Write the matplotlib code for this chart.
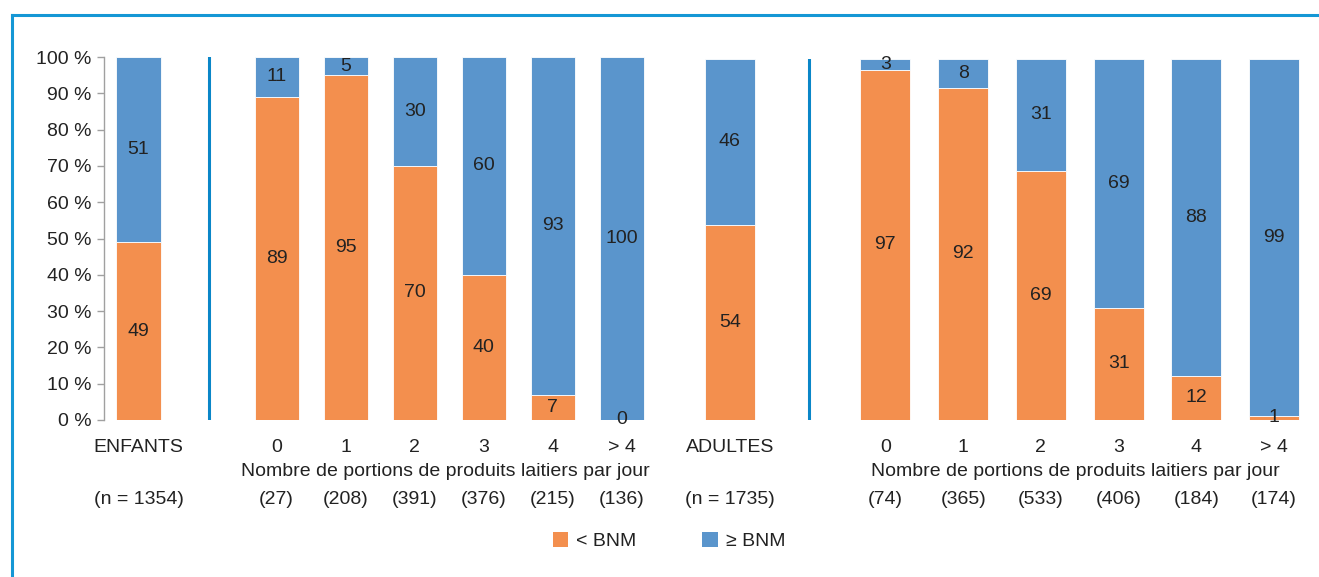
import matplotlib

matplotlib.use("Agg", force=True)
import matplotlib.pyplot as plt
import matplotlib.transforms as mtransforms
from matplotlib.lines import Line2D
from matplotlib.patches import Patch

plt.rcParams["font.family"] = ["Liberation Sans", "DejaVu Sans"]

ORANGE = "#f38f4e"
BLUE = "#5a95cc"
FRAME = "#1597d5"
TEXT = "#222222"
FS = 14

positions = [0, 2, 3, 4, 5, 6, 7]

child_labels = ["ENFANTS", "0", "1", "2", "3", "4", "> 4"]
child_n = ["(n = 1354)", "(27)", "(208)", "(391)", "(376)", "(215)", "(136)"]
child_below = [49, 89, 95, 70, 40, 7, 0]
child_above = [51, 11, 5, 30, 60, 93, 100]

adult_labels = ["ADULTES", "0", "1", "2", "3", "4", "> 4"]
adult_n = ["(n = 1735)", "(74)", "(365)", "(533)", "(406)", "(184)", "(174)"]
adult_below = [54, 97, 92, 69, 31, 12, 1]
adult_above = [46, 3, 8, 31, 69, 88, 99]

yticks = list(range(0, 101, 10))
xlabel = "Nombre de portions de produits laitiers par jour"

W, H = 1319, 577
fig = plt.figure(figsize=(W / 100, H / 100), dpi=100)


def px_axes(x0, x1, ytop, ybot):
    return fig.add_axes([x0 / W, 1 - ybot / H, (x1 - x0) / W, (ybot - ytop) / H])


ax_c = px_axes(104, 656.5, 57, 420)
ax_a = px_axes(691, 1313, 59, 419.5)


def draw_panel(ax, labels, ns, below, above):
    ax.bar(positions, below, width=0.64, color=ORANGE, edgecolor="white", linewidth=0.6)
    ax.bar(positions, above, width=0.64, bottom=below, color=BLUE, edgecolor="white", linewidth=0.6)
    for x, b, a in zip(positions, below, above):
        ax.text(x, b / 2, str(b), ha="center", va="center", fontsize=FS, color=TEXT)
        ax.text(x, b + a / 2, str(a), ha="center", va="center", fontsize=FS, color=TEXT)
    ax.set_xlim(-0.5, 7.5)
    ax.set_ylim(0, 100)
    ax.axvline(1.02, 0, 1, color="#0a86c8", lw=2.2)
    for s in ["top", "right", "bottom"]:
        ax.spines[s].set_visible(False)
    ax.set_xticks([])
    trans = mtransforms.blended_transform_factory(ax.transData, fig.transFigure)
    for x, lab, n in zip(positions, labels, ns):
        ax.text(x, 1 - 447 / H, lab, transform=trans, ha="center", va="center", fontsize=FS, color=TEXT)
        ax.text(x, 1 - 500 / H, n, transform=trans, ha="center", va="center", fontsize=FS, color=TEXT)
    ax.text(4.45, 1 - 471 / H, xlabel, transform=trans, ha="center", va="center", fontsize=FS, color=TEXT)


draw_panel(ax_c, child_labels, child_n, child_below, child_above)
draw_panel(ax_a, adult_labels, adult_n, adult_below, adult_above)

ax_c.set_yticks(yticks)
ax_c.set_yticklabels([f"{t} %" for t in yticks], fontsize=FS, color=TEXT)
ax_c.spines["left"].set_color("#a0a0a0")
ax_c.spines["left"].set_linewidth(1.0)
ax_c.tick_params(axis="y", length=5, width=1.0, color="#a0a0a0", pad=4)

ax_a.spines["left"].set_visible(False)
ax_a.set_yticks([])

handles = [Patch(facecolor=ORANGE, label="< BNM"), Patch(facecolor=BLUE, label="≥ BNM")]
fig.legend(handles=handles, loc="center", bbox_to_anchor=(669 / W, 1 - 541 / H), ncol=2,
           frameon=False, fontsize=FS, handlelength=0.8, handleheight=0.8,
           handletextpad=0.4, columnspacing=3.4, labelcolor=TEXT)

fig.add_artist(Line2D([11.5 / W, 1], [1 - 14.5 / H, 1 - 14.5 / H], color=FRAME, lw=2.2, transform=fig.transFigure))
fig.add_artist(Line2D([11.5 / W, 11.5 / W], [0, 1 - 14.5 / H], color=FRAME, lw=2.2, transform=fig.transFigure))

fig.savefig("out.png", dpi=100)
